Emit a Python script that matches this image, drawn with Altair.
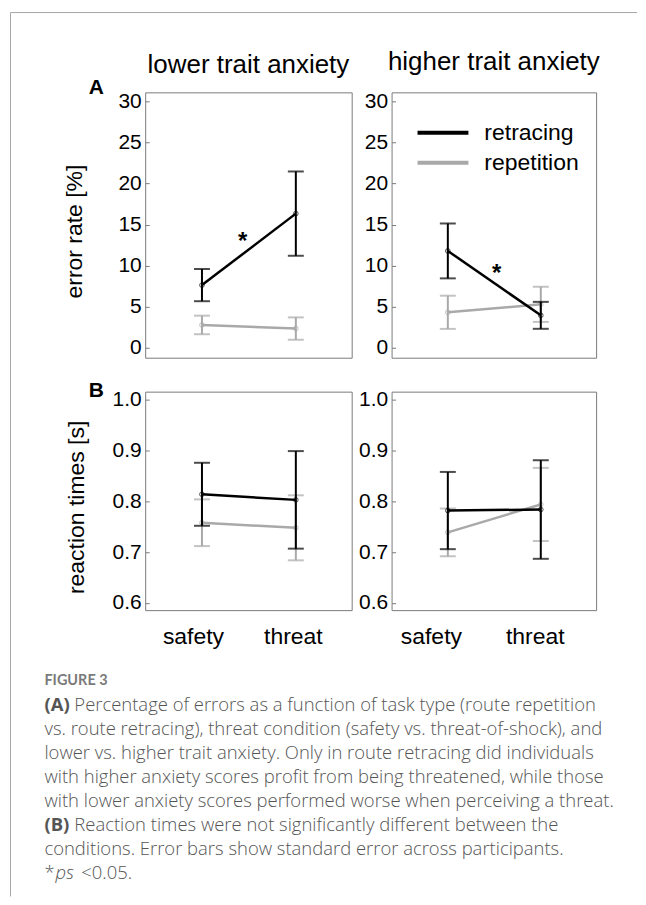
import altair as alt
import pandas as pd

# ---------------- data ----------------
conditions = ["safety", "threat"]
tasks = ["retracing", "repetition"]
groups = ["lower trait anxiety", "higher trait anxiety"]
task_colors = ["#000000", "#a9a9a9"]

# (A) error rate [%] : mean and standard error for (safety, threat)
err_lower_retracing_mean = [7.64, 16.34]
err_lower_retracing_se = [1.96, 5.13]
err_lower_repetition_mean = [2.79, 2.35]
err_lower_repetition_se = [1.13, 1.36]
err_higher_retracing_mean = [11.8, 3.96]
err_higher_retracing_se = [3.34, 1.64]
err_higher_repetition_mean = [4.33, 5.30]
err_higher_repetition_se = [2.02, 2.14]

# (B) reaction times [s]
rt_lower_retracing_mean = [0.814, 0.803]
rt_lower_retracing_se = [0.062, 0.096]
rt_lower_repetition_mean = [0.758, 0.748]
rt_lower_repetition_se = [0.046, 0.064]
rt_higher_retracing_mean = [0.782, 0.784]
rt_higher_retracing_se = [0.076, 0.097]
rt_higher_repetition_mean = [0.739, 0.794]
rt_higher_repetition_se = [0.047, 0.072]

err_ticks = [0, 5, 10, 15, 20, 25, 30]
rt_ticks = [0.6, 0.7, 0.8, 0.9, 1.0]
err_domain = [-1.2, 31.1]
rt_domain = [0.586, 1.016]
x_domain = [0.395, 2.595]

# significance stars (x between conditions, y in error-rate units)
star_x = [1.434, 1.525]
star_y = [12.9, 9.0]
star_label = "*"
panel_letters = ["A", "B"]

caption_heading = "FIGURE 3"
caption_bold = ["(A)", "", "", "", "", "(B)", ""]
caption_body = [
    "Percentage of errors as a function of task type (route repetition",
    "vs. route retracing), threat condition (safety vs. threat-of-shock), and",
    "lower vs. higher trait anxiety. Only in route retracing did individuals",
    "with higher anxiety scores profit from being threatened, while those",
    "with lower anxiety scores performed worse when perceiving a threat.",
    "Reaction times were not significantly different between the",
    "conditions. Error bars show standard error across participants.",
]
caption_note = ["*", "ps", "<0.05."]

FONT = "Liberation Sans"
CAP_FONT = "Open Sans"


def make_df(means, ses):
    rows = []
    for t, m, s in zip(tasks, means, ses):
        for i, c in enumerate(conditions):
            rows.append(dict(task=t, cond=c, pos=i + 1, mean=m[i],
                             lo=m[i] - s[i], hi=m[i] + s[i]))
    return pd.DataFrame(rows)


df_a_lower = make_df([err_lower_retracing_mean, err_lower_repetition_mean],
                     [err_lower_retracing_se, err_lower_repetition_se])
df_a_higher = make_df([err_higher_retracing_mean, err_higher_repetition_mean],
                      [err_higher_retracing_se, err_higher_repetition_se])
df_b_lower = make_df([rt_lower_retracing_mean, rt_lower_repetition_mean],
                     [rt_lower_retracing_se, rt_lower_repetition_se])
df_b_higher = make_df([rt_higher_retracing_mean, rt_higher_repetition_mean],
                      [rt_higher_retracing_se, rt_higher_repetition_se])

label_expr = "[" + ",".join(f"'{c}'" for c in conditions) + "][datum.value - 1]"

color = alt.Color(
    "task:N",
    scale=alt.Scale(domain=tasks, range=task_colors),
    legend=alt.Legend(
        title=None, orient="none", legendX=271, legendY=26.5,
        symbolType="stroke", symbolSize=2601, symbolStrokeWidth=4,
        symbolOpacity=1,
        labelFontSize=23, labelFont=FONT, labelColor="#000000",
        clipHeight=28, rowPadding=2, padding=0, labelOffset=14,
    ),
)


def panel(df, ydom, yticks, yfmt, ytitle, title_pad, width, height,
          show_x=False, xoff=(0, 0), title=None, title_dy=0, letter=None, star=None):
    xaxis = alt.Axis(values=[1, 2], labelExpr=label_expr, ticks=False,
                     domain=False, grid=False, labelPadding=15,
                     labelOffset=alt.condition("datum.value == 1", alt.value(xoff[0]), alt.value(xoff[1])),
                     labelFontSize=23, title=None) if show_x else None
    X = alt.X("pos:Q", scale=alt.Scale(domain=x_domain, nice=False, zero=False),
              axis=xaxis)
    yaxis = alt.Axis(values=yticks, format=yfmt, offset=-4, tickSize=4,
                     domain=False, grid=False, labelPadding=4,
                     titlePadding=title_pad, titleY=height / 2 + 6)

    def Y(field):
        return alt.Y(f"{field}:Q",
                     scale=alt.Scale(domain=ydom, nice=False, zero=False),
                     axis=yaxis, title=ytitle)

    layers = []
    for t in reversed(tasks):  # grey series first, black on top
        base = alt.Chart(df).transform_filter(alt.datum.task == t).encode(x=X, color=color)
        layers += [
            base.mark_rule(strokeWidth=2).encode(y=Y("lo"), y2="hi:Q"),
            base.mark_tick(orient="horizontal", size=16, thickness=2).encode(y=Y("lo")),
            base.mark_tick(orient="horizontal", size=16, thickness=2).encode(y=Y("hi")),
            base.mark_line(strokeWidth=2.5).encode(y=Y("mean")),
            base.mark_point(filled=False, size=22, strokeWidth=1).encode(y=Y("mean")),
        ]
    if star is not None:
        sdf = pd.DataFrame({"sx": [star[0]], "sy": [star[1]], "label": [star_label]})
        layers.append(
            alt.Chart(sdf).mark_text(fontSize=24, fontWeight="bold", font=FONT,
                                     baseline="middle", align="center", color="#000000")
            .encode(x=alt.X("sx:Q", scale=alt.Scale(domain=x_domain, nice=False, zero=False), axis=xaxis),
                    y=Y("sy"), text="label:N")
        )
    if letter is not None:
        ldf = pd.DataFrame({"letter": [letter]})
        layers.append(
            alt.Chart(ldf).mark_text(fontSize=21, fontWeight="bold", font=FONT,
                                     baseline="alphabetic", align="center", color="#000000")
            .encode(x=alt.value(-49), y=alt.value(2 if letter == "A" else 5), text="letter:N")
        )
    ch = alt.layer(*layers).properties(width=width, height=height)
    if title is not None:
        ch = ch.properties(title=alt.TitleParams(
            title, fontSize=26, font=FONT, fontWeight="normal", color="#000000",
            offset=20, dy=title_dy, frame="group", anchor="middle", baseline="alphabetic"))
    return ch


a_left = panel(df_a_lower, err_domain, err_ticks, "d", "error rate [%]", 31, 207, 266,
               title=groups[0], title_dy=42, letter=panel_letters[0],
               star=(star_x[0], star_y[0]))
a_right = panel(df_a_higher, err_domain, err_ticks, "d", None, 31, 205, 266,
                title=groups[1], title_dy=26, star=(star_x[1], star_y[1]))
b_left = panel(df_b_lower, rt_domain, rt_ticks, ".1f", "reaction times [s]", 24, 207, 219,
               show_x=True, xoff=(-9, -3), letter=panel_letters[1])
b_right = panel(df_b_higher, rt_domain, rt_ticks, ".1f", None, 24, 205, 219,
                show_x=True, xoff=(-17, -6))

# ---------------- caption ----------------
rows = [dict(line=0, text=caption_heading, kind="head")]
for i, (b, t) in enumerate(zip(caption_bold, caption_body)):
    if b:
        rows.append(dict(line=i + 1, text=b, kind="bold"))
        rows.append(dict(line=i + 1, text=t, kind="indent"))
    else:
        rows.append(dict(line=i + 1, text=t, kind="body"))
n = len(caption_body) + 1
rows.append(dict(line=n, text=caption_note[0], kind="body"))
rows.append(dict(line=n, text=caption_note[1], kind="italic"))
rows.append(dict(line=n, text=caption_note[2], kind="tail"))
cap_df = pd.DataFrame(rows)

capY = alt.Y("line:Q", scale=alt.Scale(domain=[-1.535, 8.424], reverse=True, nice=False, zero=False),
             axis=None)
cap_base = alt.Chart(cap_df).encode(x=alt.value(-101), y=capY, text="text:N")


def cap_layer(kind, font=CAP_FONT, **kw):
    return cap_base.transform_filter(alt.datum.kind == kind).mark_text(
        align="left", baseline="middle", font=font, **kw)


border_df = pd.DataFrame({"edge": ["frame"]})
top_rule = alt.Chart(border_df).mark_rule(color="#a6a6a6", strokeWidth=1).encode(
    x=alt.value(-135), x2=alt.value(493), y=alt.value(-633))
left_rule = alt.Chart(border_df).mark_rule(color="#a6a6a6", strokeWidth=1).encode(
    x=alt.value(-135), y=alt.value(-633), y2=alt.value(253))

BODY = dict(fontSize=18.5, fontWeight=300, color="#555555")
caption = alt.layer(
    top_rule, left_rule,
    cap_layer("head", font="Lato", fontSize=14.5, fontWeight="bold", color="#7a7a7a"),
    cap_layer("bold", fontSize=18.5, fontWeight="bold", color="#555555"),
    cap_layer("indent", dx=30, **BODY),
    cap_layer("body", **BODY),
    cap_layer("italic", fontStyle="italic", dx=11, **BODY),
    cap_layer("tail", dx=37, **BODY),
).properties(width=207, height=240, view=alt.ViewBackground(stroke="transparent"))

chart = alt.concat(
    a_left, a_right, b_left, b_right, caption,
    columns=2, spacing={"row": 34, "column": 40}, bounds="flush",
).properties(
    padding={"left": 1.5, "top": 2.5, "right": 0, "bottom": 0},
    background="#ffffff",
).configure_view(
    stroke="#7a7a7a", strokeWidth=1,
).configure_axis(
    labelFont=FONT, labelFontSize=21, labelColor="#000000", tickColor="#7a7a7a",
    tickWidth=1, titleFont=FONT, titleFontSize=23, titleFontWeight="normal",
    titleColor="#000000",
)

chart.save("out.html", embed_options={"renderer": "svg", "actions": False})
